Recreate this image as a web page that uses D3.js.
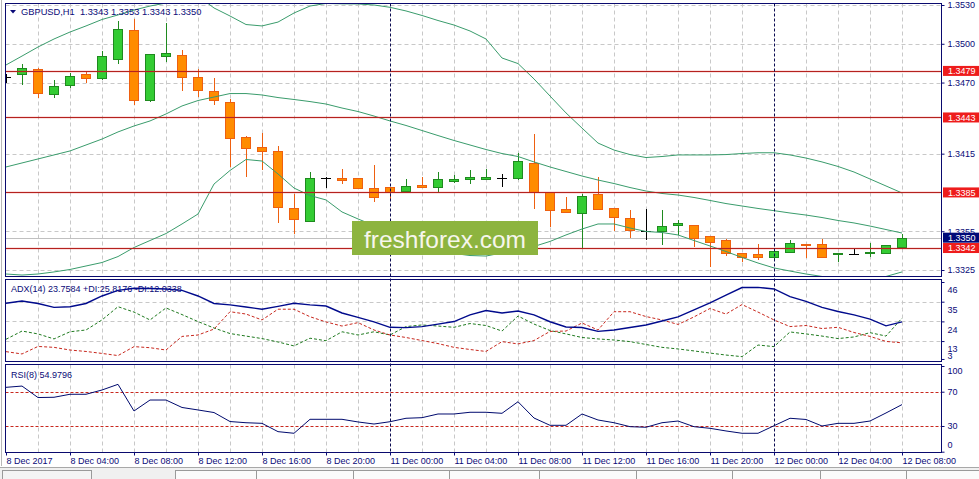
<!DOCTYPE html>
<html><head><meta charset="utf-8">
<script src="https://cdn.jsdelivr.net/npm/d3@7"></script>
<style>
html,body{margin:0;padding:0;background:#fff;overflow:hidden}
text{font-family:"Liberation Sans",Arial,sans-serif}
</style></head><body>
<svg id="c" width="979" height="479"></svg>
<script>
// ---------- DATA ----------
const times = [
"2017.12.08 00:00","2017.12.08 01:00","2017.12.08 02:00","2017.12.08 03:00","2017.12.08 04:00","2017.12.08 05:00",
"2017.12.08 06:00","2017.12.08 07:00","2017.12.08 08:00","2017.12.08 09:00","2017.12.08 10:00","2017.12.08 11:00",
"2017.12.08 12:00","2017.12.08 13:00","2017.12.08 14:00","2017.12.08 15:00","2017.12.08 16:00","2017.12.08 17:00",
"2017.12.08 18:00","2017.12.08 19:00","2017.12.08 20:00","2017.12.08 21:00","2017.12.08 22:00","2017.12.08 23:00",
"2017.12.11 00:00","2017.12.11 01:00","2017.12.11 02:00","2017.12.11 03:00","2017.12.11 04:00","2017.12.11 05:00",
"2017.12.11 06:00","2017.12.11 07:00","2017.12.11 08:00","2017.12.11 09:00","2017.12.11 10:00","2017.12.11 11:00",
"2017.12.11 12:00","2017.12.11 13:00","2017.12.11 14:00","2017.12.11 15:00","2017.12.11 16:00","2017.12.11 17:00",
"2017.12.11 18:00","2017.12.11 19:00","2017.12.11 20:00","2017.12.11 21:00","2017.12.11 22:00","2017.12.11 23:00",
"2017.12.12 00:00","2017.12.12 01:00","2017.12.12 02:00","2017.12.12 03:00","2017.12.12 04:00","2017.12.12 05:00",
"2017.12.12 06:00","2017.12.12 07:00","2017.12.12 08:00"];

const openP = [1.34743,1.34766,1.34803,1.34609,1.34679,1.34766,1.34733,1.34885,1.35107,1.34565,1.34908,1.34913,
1.34741,1.34635,1.34550,1.34277,1.34199,1.34168,1.33727,1.33631,1.33958,1.33959,1.33960,1.33887,
1.33890,1.33859,1.33908,1.33890,1.33936,1.33956,1.33954,1.33959,1.33962,1.34075,1.33853,1.33720,
1.33689,1.33838,1.33727,1.33650,1.33554,1.33554,1.33596,1.33596,1.33513,1.33482,1.33379,1.33374,
1.33348,1.33389,1.33453,1.33449,1.33374,1.33374,1.33379,1.33379,1.33430];
const highP = [1.34766,1.34844,1.34810,1.34720,1.34776,1.34789,1.34944,1.35176,1.35192,1.34921,1.35163,1.34952,
1.34803,1.34733,1.34573,1.34287,1.34308,1.34209,1.33838,1.34006,1.33972,1.34029,1.33964,1.34062,
1.33890,1.33952,1.33967,1.34010,1.33985,1.34024,1.34029,1.33990,1.34157,1.34302,1.33853,1.33812,
1.33836,1.33972,1.33732,1.33714,1.33720,1.33714,1.33637,1.33596,1.33513,1.33490,1.33379,1.33451,
1.33397,1.33482,1.33453,1.33487,1.33384,1.33418,1.33457,1.33441,1.33530];
const lowP = [1.34704,1.34687,1.34591,1.34591,1.34668,1.34704,1.34730,1.34849,1.34532,1.34557,1.34867,1.34642,
1.34598,1.34534,1.34057,1.33980,1.34031,1.33624,1.33539,1.33630,1.33894,1.33921,1.33882,1.33784,
1.33792,1.33859,1.33894,1.33853,1.33933,1.33925,1.33952,1.33900,1.33952,1.33727,1.33590,1.33696,
1.33418,1.33720,1.33559,1.33508,1.33487,1.33449,1.33529,1.33438,1.33283,1.33368,1.33322,1.33337,
1.33346,1.33389,1.33353,1.33353,1.33320,1.33374,1.33358,1.33379,1.33430];
const closeP = [1.34743,1.34810,1.34617,1.34671,1.34748,1.34738,1.34903,1.35112,1.34565,1.34921,1.34926,1.34745,
1.34640,1.34565,1.34269,1.34191,1.34173,1.33735,1.33647,1.33959,1.33958,1.33949,1.33882,1.33812,
1.33853,1.33897,1.33894,1.33952,1.33952,1.33967,1.33967,1.33959,1.34091,1.33856,1.33712,1.33696,
1.33825,1.33720,1.33658,1.33557,1.33554,1.33590,1.33611,1.33495,1.33464,1.33384,1.33353,1.33353,
1.33395,1.33457,1.33441,1.33353,1.33384,1.33374,1.33389,1.33441,1.33500];

const upperBand = [1.34836,1.34905,1.34975,1.35037,1.35091,1.35138,1.35188,1.35223,1.35261,1.35292,1.35315,1.35370,
1.35370,1.35277,1.35215,1.35149,1.35138,1.35168,1.35238,1.35292,1.35312,1.35309,1.35308,1.35300,
1.35282,1.35254,1.35219,1.35180,1.35145,1.35099,1.35037,1.34890,1.34847,1.34728,1.34596,1.34465,
1.34348,1.34232,1.34178,1.34143,1.34120,1.34128,1.34140,1.34140,1.34140,1.34143,1.34151,1.34157,
1.34157,1.34140,1.34116,1.34086,1.34051,1.34008,1.33954,1.33900,1.33846];
const middleBand = [1.34047,1.34078,1.34109,1.34140,1.34171,1.34217,1.34263,1.34318,1.34364,1.34403,1.34457,1.34519,
1.34561,1.34588,1.34615,1.34615,1.34604,1.34584,1.34569,1.34553,1.34534,1.34503,1.34476,1.34441,
1.34403,1.34368,1.34329,1.34290,1.34252,1.34217,1.34182,1.34151,1.34128,1.34086,1.34047,1.34012,
1.33977,1.33946,1.33919,1.33888,1.33861,1.33842,1.33830,1.33811,1.33788,1.33764,1.33745,1.33726,
1.33709,1.33691,1.33675,1.33656,1.33633,1.33614,1.33590,1.33563,1.33536];
const lowerBand = [1.33219,1.33211,1.33219,1.33235,1.33254,1.33281,1.33308,1.33354,1.33424,1.33478,1.33532,1.33606,
1.33683,1.33915,1.34020,1.34105,1.34093,1.33993,1.33884,1.33826,1.33792,1.33699,1.33645,1.33594,
1.33544,1.33498,1.33451,1.33412,1.33378,1.33362,1.33358,1.33382,1.33409,1.33432,1.33471,1.33521,
1.33567,1.33606,1.33606,1.33575,1.33548,1.33540,1.33521,1.33478,1.33436,1.33393,1.33347,1.33304,
1.33266,1.33242,1.33219,1.33200,1.33180,1.33173,1.33180,1.33200,1.33235];

const adxLine = [34.1,35.4,34.0,31.8,32.2,34.0,38.2,41.3,42.5,42.4,42.1,41.3,
38.2,34.0,33.2,32.0,30.8,32.4,34.1,33.2,32.6,28.7,26.2,23.7,
20.7,20.5,21.1,22.5,23.9,27.6,30.1,28.7,29.8,27.6,23.8,20.9,
20.6,18.4,19.2,20.6,22.0,24.2,26.5,30.4,34.3,38.7,42.9,43.0,
42.1,37.8,35.2,31.8,29.5,27.6,25.3,21.5,23.7584];
const plusDI = [14.0,18.6,17.0,14.2,18.2,19.2,24.8,32.2,29.2,24.8,31.5,27.8,
23.9,20.3,17.2,15.8,14.4,12.5,10.3,14.6,13.2,18.2,16.4,18.2,
16.4,21.1,22.0,21.4,20.7,22.8,21.7,18.6,27.0,22.5,18.9,17.0,
15.0,14.2,13.6,12.7,11.1,9.5,8.6,7.5,6.3,5.2,4.3,10.8,
9.9,18.1,17.0,15.8,14.4,15.3,17.7,15.8,25.8176];
const minusDI = [7.1,5.8,10.0,9.5,8.0,7.2,6.1,4.9,9.9,9.3,8.0,15.6,
16.4,19.7,29.4,28.1,24.8,30.8,30.8,26.6,23.7,21.4,23.3,19.2,
16.4,15.0,13.3,11.6,9.5,8.3,7.2,12.7,11.4,13.3,18.4,18.6,
23.1,19.2,29.4,29.4,26.7,24.8,22.3,26.5,31.2,28.1,33.4,29.2,
24.8,21.1,21.7,20.0,20.7,17.8,15.6,12.8,12.0338];

const rsiLine = [75.1,76.6,63.2,63.5,67.0,67.0,72.0,78.6,47.5,60.3,60.3,51.6,
48.7,45.7,35.2,33.8,33.1,23.4,21.5,37.8,37.8,37.8,34.7,32.3,
35.0,39.0,39.7,44.0,44.0,46.0,46.0,44.8,58.3,39.3,30.8,30.8,
44.0,37.0,33.8,29.2,28.5,33.8,35.8,29.2,27.3,24.2,21.5,21.5,
30.3,39.0,37.6,30.0,33.1,33.1,35.8,45.2,54.9796];

const priceTicks = [1.3530,1.3500,1.3470,1.3415,1.3355,1.3325];
const levelLines = [1.3479,1.3443,1.3385,1.3342];
const lastPrice = 1.3350;
const adxTicks = [46,35,24,13,3];
const adxGrid = [35,24,13];
const rsiTicks = [100,70,30,0];
const rsiLevels = [70,30];
const tickTimes = ["2017.12.08 00:00","2017.12.08 04:00","2017.12.08 08:00","2017.12.08 12:00","2017.12.08 16:00",
"2017.12.08 20:00","2017.12.11 00:00","2017.12.11 04:00","2017.12.11 08:00","2017.12.11 12:00","2017.12.11 16:00",
"2017.12.11 20:00","2017.12.12 00:00","2017.12.12 04:00","2017.12.12 08:00"];
const tickLabels = ["8 Dec 2017","8 Dec 04:00","8 Dec 08:00","8 Dec 12:00","8 Dec 16:00","8 Dec 20:00",
"11 Dec 00:00","11 Dec 04:00","11 Dec 08:00","11 Dec 12:00","11 Dec 16:00","11 Dec 20:00",
"12 Dec 00:00","12 Dec 04:00","12 Dec 08:00"];
const daySeparators = ["2017.12.11 00:00","2017.12.12 00:00"];
const headerText = "GBPUSD,H1  1.3343 1.3353 1.3343 1.3350";
const adxTitle = "ADX(14) 23.7584 +DI:25.8176 -DI:12.0338";
const rsiTitle = "RSI(8) 54.9796";
const watermark = "freshforex.com";

// ---------- LAYOUT ----------
const L = 5.5, R = 941.5;
const P = {main:[3.5,276.5], adx:[279.5,361.5], rsi:[364.5,452.5]};
const NAVY = "#0a0a78", GRID = "#c8c8c8";

const svg = d3.select("#c");
const x = d3.scalePoint().domain(times).range([6, 902]);
const yP = d3.scaleLinear().domain([1.3325, 1.3530]).range([270, 5]);
const yA = d3.scaleLinear().domain([3, 46]).range([358.98, 282.0]);
const yR = d3.scaleLinear().domain([0, 100]).range([451.7, 366]);

const defs = svg.append("defs");
Object.entries(P).forEach(([k,[t,b]]) => {
  defs.append("clipPath").attr("id","clip-"+k).append("rect")
    .attr("x",L+0.5).attr("y",t+0.5).attr("width",R-L-1).attr("height",b-t-1);
});

// window edge
svg.append("line").attr("x1",1.5).attr("x2",1.5).attr("y1",0).attr("y2",466).attr("stroke","#b8b8b8");

// ---------- GRIDS ----------
const gridIdx = times.filter((t,i)=> i%2===0 && i>0 && !daySeparators.includes(t));
Object.entries(P).forEach(([k,[t,b]]) => {
  svg.append("g").selectAll("line").data(gridIdx).join("line")
    .attr("x1",d=>x(d)+0.5).attr("x2",d=>x(d)+0.5).attr("y1",t).attr("y2",b)
    .attr("stroke",GRID).attr("stroke-dasharray","4,3");
});
svg.append("g").selectAll("line").data(priceTicks).join("line")
  .attr("x1",L).attr("x2",R).attr("y1",d=>Math.round(yP(d))+0.5).attr("y2",d=>Math.round(yP(d))+0.5)
  .attr("stroke",GRID).attr("stroke-dasharray","4,3");
svg.append("g").selectAll("line").data(adxGrid).join("line")
  .attr("x1",L).attr("x2",R).attr("y1",d=>Math.round(yA(d))+0.5).attr("y2",d=>Math.round(yA(d))+0.5)
  .attr("stroke",GRID).attr("stroke-dasharray","4,3");

// ---------- MAIN PANEL ----------
const gm = svg.append("g").attr("clip-path","url(#clip-main)");
// current price line
gm.append("line").attr("x1",L).attr("x2",R)
  .attr("y1",Math.round(yP(lastPrice))+0.5).attr("y2",Math.round(yP(lastPrice))+0.5)
  .attr("stroke","#c0c0c0");

// candles
const candles = times.map((t,i)=>({t,o:openP[i],h:highP[i],l:lowP[i],c:closeP[i]}));
const cg = gm.append("g").attr("shape-rendering","crispEdges");
candles.forEach(d=>{
  const cx = x(d.t);
  const doji = d.o === d.c;
  const bull = d.c > d.o;
  const stroke = doji ? "#000" : (bull ? "#1f8a1f" : "#ee6010");
  const fill = bull ? "#33cc33" : "#ff8c00";
  cg.append("line").attr("x1",cx+0.5).attr("x2",cx+0.5)
    .attr("y1",Math.round(yP(d.h))).attr("y2",Math.round(yP(d.l))+1).attr("stroke",stroke);
  const top = Math.round(yP(Math.max(d.o,d.c))), bot = Math.round(yP(Math.min(d.o,d.c)));
  if (bot - top < 1) {
    cg.append("line").attr("x1",cx-5).attr("x2",cx+5).attr("y1",top+0.5).attr("y2",top+0.5).attr("stroke",stroke);
  } else {
    cg.append("rect").attr("x",cx-4.5).attr("y",top+0.5).attr("width",9).attr("height",bot-top)
      .attr("fill",fill).attr("stroke",stroke);
  }
});

// bollinger bands
const bandLine = d3.line().x((d,i)=>x(times[i])).y(d=>yP(d));
[upperBand, middleBand, lowerBand].forEach(arr=>{
  gm.append("path").attr("d",bandLine(arr)).attr("fill","none").attr("stroke","#3a9c6c").attr("stroke-width",1);
});

// horizontal level lines
levelLines.forEach(v=>{
  const yy = Math.round(yP(v))+0.5;
  gm.append("line").attr("x1",L).attr("x2",R).attr("y1",yy).attr("y2",yy).attr("stroke","rgba(230,60,60,0.15)").attr("stroke-width",3);
  gm.append("line").attr("x1",L).attr("x2",R).attr("y1",yy).attr("y2",yy).attr("stroke","#b5221e");
});

// header
svg.append("path").attr("d","M10,10 L16,10 L13,13.5 Z").attr("fill",NAVY);
svg.append("text").attr("x",21).attr("y",15).attr("font-size",9.3).attr("fill",NAVY).attr("xml:space","preserve").text(headerText);

// ---------- ADX PANEL ----------
svg.append("text").attr("x",11).attr("y",291.5).attr("font-size",9).attr("fill",NAVY).text(adxTitle);
const ga = svg.append("g").attr("clip-path","url(#clip-adx)");
const aLine = d3.line().x((d,i)=>x(times[i])).y(d=>yA(d));
ga.append("path").attr("d",aLine(plusDI)).attr("fill","none").attr("stroke","#1f7a1f").attr("stroke-dasharray","3,2");
ga.append("path").attr("d",aLine(minusDI)).attr("fill","none").attr("stroke","#c8281e").attr("stroke-dasharray","3,2");
ga.append("path").attr("d",aLine(adxLine)).attr("fill","none").attr("stroke","#000a8c").attr("stroke-width",1.4);

// ---------- RSI PANEL ----------
const gr = svg.append("g").attr("clip-path","url(#clip-rsi)");
rsiLevels.forEach(v=>{
  const yy = Math.round(yR(v))+0.5;
  gr.append("line").attr("x1",L).attr("x2",R).attr("y1",yy).attr("y2",yy)
    .attr("stroke","#c8281e").attr("stroke-dasharray","3,2");
});
gr.append("path").attr("d",d3.line().x((d,i)=>x(times[i])).y(d=>yR(d))(rsiLine))
  .attr("fill","none").attr("stroke","#000a6e").attr("stroke-width",1);
svg.append("text").attr("x",11).attr("y",377.5).attr("font-size",9).attr("fill",NAVY).text(rsiTitle);

// day separators
svg.append("g").selectAll("line").data(daySeparators).join("line")
  .attr("x1",d=>x(d)+0.5).attr("x2",d=>x(d)+0.5).attr("y1",P.main[0]).attr("y2",P.rsi[1])
  .attr("stroke","#0a0a50").attr("stroke-dasharray","3,2");

// panel borders
Object.values(P).forEach(([t,b])=>{
  svg.append("rect").attr("x",L).attr("y",t).attr("width",R-L).attr("height",b-t)
    .attr("fill","none").attr("stroke","#0a0a6e");
});

// ---------- AXES ----------
const axP = svg.append("g").attr("transform",`translate(${R},0)`)
  .call(d3.axisRight(yP).tickValues(priceTicks).tickSize(3).tickPadding(3).tickFormat(d3.format(".4f")));
const axA = svg.append("g").attr("transform",`translate(${R},0)`)
  .call(d3.axisRight(yA).tickValues(adxTicks).tickSize(3).tickPadding(3).tickFormat(d3.format("d")));
const axR = svg.append("g").attr("transform",`translate(${R},0)`)
  .call(d3.axisRight(yR).tickValues(rsiTicks).tickSize(3).tickPadding(3).tickFormat(d3.format("d")));
const axT = svg.append("g").attr("transform",`translate(0,${P.rsi[1]})`)
  .call(d3.axisBottom(x).tickValues(tickTimes).tickSize(3).tickPadding(2).tickFormat((d,i)=>tickLabels[i]));
[axP,axA,axR,axT].forEach(a=>{
  a.select(".domain").remove();
  a.selectAll("line").attr("stroke",NAVY);
  a.selectAll("text").attr("fill",NAVY).attr("font-size",9)
    .attr("font-family",'"Liberation Sans",Arial,sans-serif');
});
axT.selectAll("text").attr("text-anchor","start").attr("x",0).attr("dy","0.71em");
// ADX labels sit just below their value line, clamped inside the panel
axA.selectAll(".tick").each(function(d){
  const yy = yA(d) + 8;
  const cy = Math.max(285.7, Math.min(356, yy));
  d3.select(this).select("text").attr("y", cy - yA(d));
});
// RSI labels clamped inside the panel
axR.selectAll(".tick").each(function(d){
  const cy = Math.max(371, Math.min(445, yR(d)));
  d3.select(this).select("text").attr("y", cy - yR(d));
});

// price-level labels on the right
const tagW = 36, tagH = 10;
function tag(v, bg){
  const yy = yP(v);
  svg.append("rect").attr("x",943).attr("y",yy-tagH/2).attr("width",tagW).attr("height",tagH).attr("fill",bg);
  svg.append("text").attr("x",948).attr("y",yy+3.3).attr("font-size",9).attr("fill","#fff").text(d3.format(".4f")(v));
}
levelLines.forEach(v=>tag(v,"#ee1c1c"));
tag(lastPrice,"#000a78");

// ---------- WATERMARK ----------
svg.append("rect").attr("x",352).attr("y",221).attr("width",186).attr("height",34).attr("fill","#8db43f");
svg.append("text").attr("x",445).attr("y",248.3).attr("text-anchor","middle")
  .attr("font-family",'"Open Sans",sans-serif').attr("font-size",24.5).attr("fill","#f6f6ec").text(watermark);

// ---------- BOTTOM TAB STRIP ----------
svg.append("rect").attr("x",0).attr("y",467).attr("width",979).attr("height",12).attr("fill","#f0f0f0");
svg.append("line").attr("x1",0).attr("x2",979).attr("y1",467.5).attr("y2",467.5).attr("stroke","#a8a8a8");
svg.append("rect").attr("x",2.5).attr("y",470.5).attr("width",89).attr("height",10).attr("fill","#f4f4f4").attr("stroke","#9a9a9a");
svg.append("rect").attr("x",175.5).attr("y",470.5).attr("width",805).attr("height",10).attr("fill","#fbfbfb").attr("stroke","#9a9a9a");
[256,353,449,539,636,732,820,906].forEach(v=>{
  svg.append("line").attr("x1",v+0.5).attr("x2",v+0.5).attr("y1",471).attr("y2",479).attr("stroke","#9a9a9a");
});
</script>
</body></html>
